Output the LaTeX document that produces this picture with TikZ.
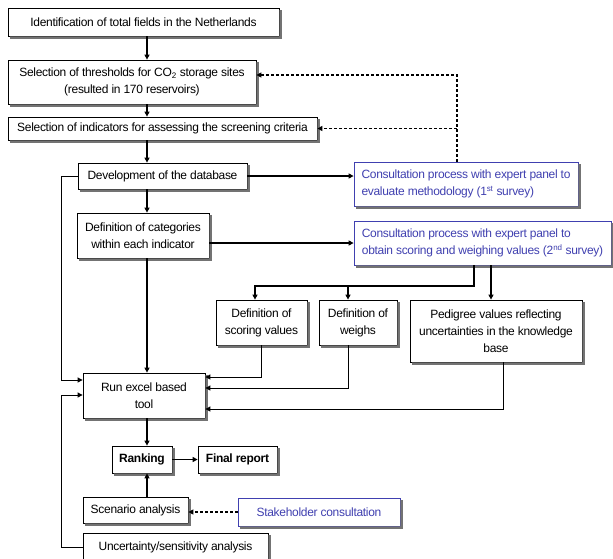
\documentclass[tikz,border=0pt]{standalone}
\usepackage{fontspec}
\setmainfont{Liberation Sans}[LetterSpace=-2.5]
\usetikzlibrary{arrows.meta}
\definecolor{consblue}{RGB}{64,64,176}
\tikzset{
  box/.style={draw,line width=0.8pt,fill=white,align=center,inner sep=1pt,
    font=\fontsize{12}{17}\selectfont},
  bluebox/.style={box,draw=consblue,text=consblue},
  sz/.style 2 args={minimum width=#1pt,minimum height=#2pt},
  boxshadow/.style={fill=black!55},
  arr/.style={-{Triangle[length=5pt,width=5pt]},line width=1.4pt},
  thinarr/.style={-{Triangle[length=5pt,width=5pt]},line width=0.9pt},
  dasharr/.style={arr,dash pattern=on 3pt off 2pt}
}
\def\graynode{\node[box]}
\def\bluenode{\node[bluebox]}

\begin{document}
\begin{tikzpicture}[x=1pt,y=-1pt]
\useasboundingbox (0,0) rectangle (613,558);
\coordinate (spine) at (147,0);
\coordinate (dtop) at (457,75);
\coordinate (split) at (474,286);
\coordinate (sc) at (255,0);
\coordinate (wd) at (348,0);
\coordinate (pa) at (491,0);
\coordinate (pd) at (503,0);
\coordinate (lx) at (61,0);
\coordinate (r1) at (0,377);
\coordinate (r2) at (0,388);
\coordinate (r3) at (0,409);
\coordinate (ra) at (0,380);
\coordinate (rb) at (0,395);

\graynode (ident) [sz={271}{28}] at (143.5,22) {Identification of total fields in the Netherlands};
\graynode (thresh) [sz={248}{44}] at (132,82) {Selection of thresholds for CO\textsubscript{2} storage sites\\(resulted in 170 reservoirs)};
\graynode (indic) [sz={309}{23}] at (162.5,128.5) {Selection of indicators for assessing the screening criteria};
\graynode (db) [sz={169}{26}] at (162.5,176) {Development of the database};
\graynode (categ) [sz={132}{45}] at (143,235.5) {Definition of categories\\within each indicator};
\bluenode (cons1) [sz={224}{44},align=left] at (466,184) {Consultation process with expert panel to\\evaluate methodology (1\textsuperscript{st} survey)};
\bluenode (cons2) [sz={257}{44},align=left] at (482.5,243) {Consultation process with expert panel to\\obtain scoring and weighing values (2\textsuperscript{nd} survey)};
\graynode (scoring) [sz={91}{45}] at (261.5,322.5) {Definition of\\scoring values};
\graynode (weighs) [sz={78}{45}] at (358,322.5) {Definition of\\weighs};
\graynode (pedigree) [sz={172}{62}] at (496,331) {Pedigree values reflecting\\uncertainties in the knowledge\\base};
\graynode (run) [sz={122}{45}] at (144,395.5) {Run excel based\\tool};
\graynode (rank) [sz={60}{27},font=\fontsize{12}{17}\selectfont\bfseries] at (142,459.5) {Ranking};
\graynode (final) [sz={79}{27},font=\fontsize{12}{17}\selectfont\bfseries] at (237.5,459.5) {Final report};
\graynode (scen) [sz={105}{26}] at (135.5,510) {Scenario analysis};
\bluenode (stake) [sz={162}{28}] at (319,512) {Stakeholder consultation};
\graynode (uncert) [sz={185}{29}] at (175.5,547.5) {Uncertainty/sensitivity analysis};

% drop shadows
\foreach \n in {ident,thresh,indic,db,categ,cons1,cons2,scoring,weighs,pedigree,run,rank,final,scen,stake,uncert}
  \fill[boxshadow] ([yshift=-2.5pt]\n.north east) -- ([shift={(2.5pt,-2.5pt)}]\n.north east)
    -- ([shift={(2.5pt,-2.5pt)}]\n.south east) -- ([shift={(2.5pt,-2.5pt)}]\n.south west)
    -- ([xshift=2.5pt]\n.south west) -- (\n.south east) -- cycle;

\draw[arr] (ident.south -| spine) -- (thresh.north -| spine);
\draw[arr] (thresh.south -| spine) -- (indic.north -| spine);
\draw[arr] (indic.south -| spine) -- (db.north -| spine);
\draw[arr] (db.south -| spine) -- (categ.north -| spine);
\draw[dasharr] (cons1.north -| dtop) -- (dtop) -- (thresh.east |- dtop);
\draw[dasharr] (dtop |- indic.east) -- (indic.east);
\draw[arr] (db.east) -- (cons1.west |- db.east);
\draw[arr] (categ.east |- cons2.west) -- (cons2.west);
\draw[arr] (cons2.south -| split) -- (split) -| (scoring.north -| sc);
\draw[arr] (split -| wd) -- (weighs.north -| wd);
\draw[arr] (cons2.south -| pa) -- (pedigree.north -| pa);
\draw[arr] (categ.south -| spine) -- (run.north -| spine);
\draw[thinarr] (scoring.south) |- (run.east |- r1);
\draw[thinarr] (weighs.south -| wd) |- (run.east |- r2);
\draw[thinarr] (pedigree.south -| pd) |- (run.east |- r3);
\draw[thinarr] (db.west) -- (db.west -| lx) |- (run.west |- ra);
\draw[thinarr] (uncert.west) -- (uncert.west -| lx) |- (run.west |- rb);
\draw[arr] (run.south -| spine) -- (rank.north -| spine);
\draw[arr] (rank.east) -- (final.west);
\draw[arr] (scen.north -| spine) -- (rank.south -| spine);
\draw[dasharr] (stake.west) -- (scen.east |- stake.west);
\end{tikzpicture}
\end{document}
